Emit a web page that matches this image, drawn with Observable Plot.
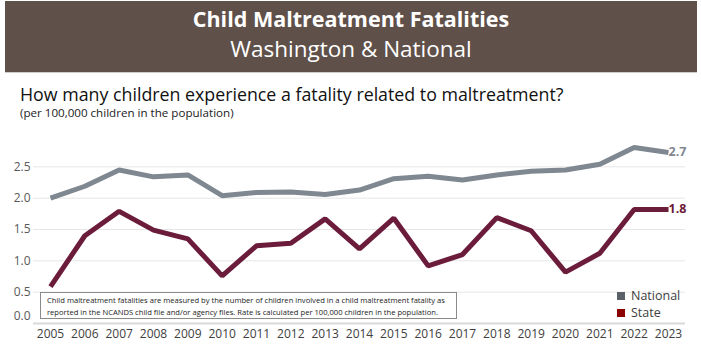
<!DOCTYPE html>
<html>
<head>
<meta charset="utf-8">
<script src="https://cdn.jsdelivr.net/npm/d3@7"></script>
<script src="https://cdn.jsdelivr.net/npm/@observablehq/plot@0.6"></script>
<style>
  html, body { margin: 0; padding: 0; background: #fff; }
  #page { position: relative; width: 701px; height: 357px; overflow: hidden; font-family: "Open Sans", sans-serif; }
  #banner { position: absolute; left: 5px; top: 1px; width: 692px; height: 71px; background: #5f5049; border-bottom: 1px solid #d0ccc8; color: #fff; text-align: center; }
  #t1 { position: absolute; left: 0; right: 0; top: 2.7px; font-size: 21.5px; font-weight: 700; line-height: 30px; white-space: nowrap; }
  #t2 { position: absolute; left: 0; right: 0; top: 33.3px; font-size: 22.5px; font-weight: 400; line-height: 30px; white-space: nowrap; }
  #q { position: absolute; left: 20px; top: 82.6px; font-size: 17.8px; color: #111; white-space: nowrap; line-height: 22px; }
  #qs { position: absolute; left: 20px; top: 105.5px; font-size: 11.6px; color: #222; white-space: nowrap; line-height: 14px; }
  #chart { position: absolute; left: 0; top: 130px; }
  #note { position: absolute; left: 40px; top: 292px; width: 417px; height: 27px; border: 1px solid #8a8a8a; background: #fff; font-size: 7.6px; line-height: 11.5px; color: #222; padding: 2px 0 0 6px; box-sizing: border-box; white-space: nowrap; }
  #legend { position: absolute; left: 617px; top: 287px; font-size: 12.5px; color: #404040; line-height: 17px; }
  .sw { display: inline-block; width: 8px; height: 8px; margin-right: 6px; vertical-align: 0px; }
</style>
</head>
<body>
<div id="page">
  <div id="banner">
    <div id="t1">Child Maltreatment Fatalities</div>
    <div id="t2">Washington &amp; National</div>
  </div>
  <div id="q">How many children experience a fatality related to maltreatment?</div>
  <div id="qs">(per 100,000 children in the population)</div>
  <div id="chart"></div>
  <div id="note">Child maltreatment fatalities are measured by the number of children involved in a child maltreatment fatality as<br>reported in the NCANDS child file and/or agency files. Rate is calculated per 100,000 children in the population.</div>
  <div id="legend">
    <div><span class="sw" style="background:#5a6169"></span>National</div>
    <div><span class="sw" style="background:#8b0000"></span>State</div>
  </div>
</div>
<script>
const years = [2005, 2006, 2007, 2008, 2009, 2010, 2011, 2012, 2013, 2014, 2015, 2016, 2017, 2018, 2019, 2020, 2021, 2022, 2023];
const national = [2.00, 2.19, 2.45, 2.34, 2.37, 2.04, 2.09, 2.10, 2.06, 2.13, 2.31, 2.35, 2.29, 2.37, 2.43, 2.45, 2.54, 2.81, 2.73];
const state = [0.59, 1.40, 1.79, 1.49, 1.35, 0.76, 1.24, 1.28, 1.67, 1.19, 1.68, 0.92, 1.10, 1.69, 1.48, 0.82, 1.12, 1.82, 1.82];
const yTicks = [0.5, 1.0, 1.5, 2.0, 2.5];
const endLabels = ["2.7", "1.8"];

const nationalData = years.map((y, i) => ({year: y, value: national[i]}));
const stateData = years.map((y, i) => ({year: y, value: state[i]}));
const endData = [
  {year: years[years.length - 1], value: national[national.length - 1], label: endLabels[0], color: "#7f8790"},
  {year: years[years.length - 1], value: state[state.length - 1], label: endLabels[1], color: "#6b1c3a"}
];

const fmt = d3.format(".1f");
const chart = Plot.plot({
  width: 701,
  height: 227,
  marginLeft: 33,
  marginRight: 16,
  marginTop: 5,
  marginBottom: 34,
  style: {fontFamily: "Open Sans, sans-serif", background: "transparent"},
  x: {domain: [2005, 2023], inset: 17},
  y: {domain: [0, 3]},
  marks: [
    Plot.gridY(yTicks, {stroke: "#e6e6e6", strokeOpacity: 1, strokeWidth: 1}),
    Plot.ruleY([0], {stroke: "#d9d9d9", strokeWidth: 2}),
    Plot.axisY(yTicks, {tickSize: 0, tickPadding: 3, tickFormat: fmt, label: null, fontSize: 12, fill: "#595959"}),
    Plot.axisY([0], {tickSize: 0, tickPadding: 3, tickFormat: fmt, label: null, fontSize: 12, fill: "#595959", dy: -7}),
    Plot.axisX(years, {tickSize: 0, tickPadding: 6, tickFormat: d => String(d), label: null, fontSize: 12, fill: "#404040"}),
    Plot.line(nationalData, {x: "year", y: "value", stroke: "#7f8790", strokeWidth: 5, strokeLinejoin: "miter", strokeLinecap: "butt"}),
    Plot.line(stateData, {x: "year", y: "value", stroke: "#6b1c3a", strokeWidth: 5, strokeLinejoin: "miter", strokeLinecap: "butt"}),
    Plot.text(endData, {x: "year", y: "value", text: "label", fill: "color", textAnchor: "start", dx: 0, fontSize: 12.5, fontWeight: 700})
  ]
});
document.getElementById("chart").appendChild(chart);
</script>
</body>
</html>
